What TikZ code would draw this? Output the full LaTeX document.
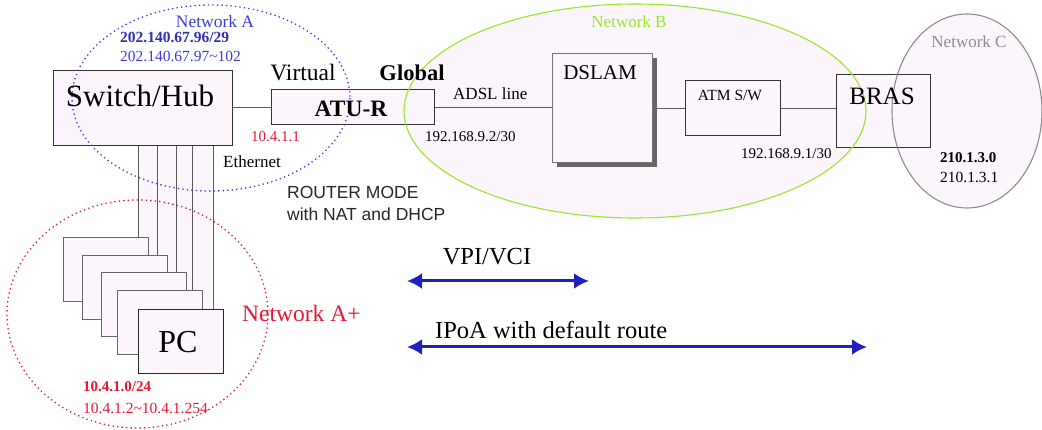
\documentclass[tikz,border=0pt]{standalone}
\usepackage{fontspec}
\setmainfont{Liberation Serif}
\newfontfamily\arialFont{Liberation Sans}
\usetikzlibrary{positioning,arrows.meta,shadows}
\tikzstyle{diagram} = [x = 1pt, y = -1pt, every node/.style={inner sep=0pt}]
\definecolor{boxFill}{RGB}{253,245,252}
\definecolor{netAColor}{RGB}{60,60,225}
\definecolor{netAPlusColor}{RGB}{232,24,48}
\definecolor{netBColor}{RGB}{150,232,40}
\definecolor{netCColor}{RGB}{140,140,140}
\definecolor{wireColor}{RGB}{90,90,90}
\definecolor{arrowColor}{RGB}{32,32,192}
\tikzstyle{deviceStyle} = [draw=black!80, fill=boxFill, line width=1.4pt, anchor=north west]
\tikzstyle{pcStyle} = [deviceStyle, draw=black!60, minimum width=85pt, minimum height=64pt]
\tikzstyle{wireStyle} = [draw=wireColor, line width=1.3pt]
\tikzstyle{netFill} = [fill=boxFill]
\tikzstyle{netADots} = [draw=netAColor, line width=1.3pt, dash pattern=on 1.3pt off 3.2pt]
\tikzstyle{netAPlusDots} = [draw=netAPlusColor, line width=1.3pt, dash pattern=on 1.3pt off 3.2pt]
\tikzstyle{netBLine} = [draw=netBColor, line width=1.1pt]
\tikzstyle{netCLine} = [draw=netCColor, line width=1.1pt]
\tikzstyle{flowArrow} = [draw=arrowColor, line width=3pt, >={Latex[length=15pt,width=16pt]}, <->]
\newcommand{\textSize}[1]{\fontsize{#1}{#1}\selectfont}

\begin{document}
\begin{tikzpicture}[diagram]
  \useasboundingbox (0,0) rectangle (1042,430);
  \path[netFill] (635,111) ellipse [x radius=231, y radius=107];
  \path[netFill] (967,111) ellipse [x radius=75, y radius=97];
  \path[netFill] (137,145) rectangle (212,309);

  \node[deviceStyle, minimum width=179pt, minimum height=75pt] (hub) at (53,70) {};
  \node[deviceStyle, minimum width=163pt, minimum height=35pt] (atur) at (271,89) {};
  \node[deviceStyle, draw=black!55, minimum width=100pt, minimum height=109pt,
        drop shadow={shadow xshift=4pt, shadow yshift=-4pt, fill=black!60, opacity=1}] (dslam) at (552,53) {};
  \node[deviceStyle, minimum width=95pt, minimum height=55pt] (atmsw) at (685,80) {};
  \node[deviceStyle, minimum width=94pt, minimum height=73pt] (bras) at (836,74) {};
  \foreach \n/\x/\y in {1/63/237, 2/82/255, 3/101/272, 4/117/290} {
    \node[pcStyle] (pc\n) at (\x,\y) {};
  }
  \node[pcStyle, draw=black!85] (pc5) at (138,309) {};

  \draw[wireStyle] (atur.west -| hub.east) -- (atur.west);
  \draw[wireStyle] (atur.east) -- (atur.east -| dslam.west);
  \draw[wireStyle] (atmsw.west -| dslam.east) -- (atmsw.west);
  \draw[wireStyle] (atmsw.east) -- (atmsw.east -| bras.west);
  \foreach \n in {1,...,5} {
    \draw[wireStyle] ([xshift=-11pt]pc\n.north east) -- ([xshift=-11pt]pc\n.north east |- hub.south);
  }

  \draw[netBLine] (635,111) ellipse [x radius=231, y radius=107];
  \draw[netCLine] (967,111) ellipse [x radius=75, y radius=97];
  \draw[netADots] (211,98) ellipse [x radius=139, y radius=93];
  \draw[netAPlusDots] (137.5,314) ellipse [x radius=130.5, y radius=114];

  \node[font=\textSize{31}] (hubText) at (140,96) {Switch/Hub};
  \node[font=\bfseries\textSize{23.5}] (aturText) at (351,109) {ATU-R};
  \node[font=\textSize{21}] (dslamText) at (600,73) {DSLAM};
  \node[font=\textSize{15.5}] (atmswText) at (730,95) {ATM S/W};
  \node[font=\textSize{25}] (brasText) at (882,96) {BRAS};
  \node[font=\textSize{32}] (pcText) at (178,342) {PC};

  \node[text=netAColor, font=\textSize{17.5}] (netALabel) at (215,22) {Network A};
  \node[anchor=west, text=netAColor!80!black, font=\bfseries\textSize{15.5}] (netANet) at (120,37) {202.140.67.96/29};
  \node[anchor=west, text=netAColor, font=\textSize{15.5}] (netARange) at (120,56) {202.140.67.97\textasciitilde102};
  \node[font=\textSize{23.5}] (virtualText) at (303,73) {Virtual};
  \node[font=\bfseries\textSize{22.5}] (globalText) at (412,73) {Global};
  \node[anchor=west, text=netAPlusColor, font=\textSize{15}] (aturIp) at (251,137) {10.4.1.1};
  \node[anchor=west, font=\textSize{17}] (ethernetText) at (223,162) {Ethernet};
  \node[anchor=west, text=black!85, font=\arialFont\textSize{17.5}] (routerMode) at (287,192) {ROUTER MODE};
  \node[anchor=west, text=black!85, font=\arialFont\textSize{17.5}] (routerNat) at (287,214) {with NAT and DHCP};
  \node[anchor=west, font=\textSize{17}] (adslText) at (453,94) {ADSL line};
  \node[anchor=west, font=\textSize{15}] (aturWanIp) at (425,137) {192.168.9.2/30};
  \node[text=netBColor, font=\textSize{17}] (netBLabel) at (629,22) {Network B};
  \node[anchor=west, font=\textSize{15}] (brasWanIp) at (741,154) {192.168.9.1/30};
  \node[text=netCColor, font=\textSize{17}] (netCLabel) at (969,42) {Network C};
  \node[anchor=west, font=\bfseries\textSize{15}] (netCNet) at (940,158) {210.1.3.0};
  \node[anchor=west, font=\textSize{15.5}] (netCHost) at (940,177) {210.1.3.1};
  \node[anchor=west, text=netAPlusColor, font=\textSize{23.5}] (netAPlusLabel) at (242,313) {Network A+};
  \node[anchor=west, text=netAPlusColor, font=\bfseries\textSize{15}] (netAPlusNet) at (83,387) {10.4.1.0/24};
  \node[anchor=west, text=netAPlusColor, font=\textSize{15.5}] (netAPlusRange) at (83,408) {10.4.1.2\textasciitilde10.4.1.254};

  \coordinate (vpiStart) at (407,281);
  \coordinate (vpiEnd) at (589,281);
  \coordinate (ipoaStart) at (407,347);
  \coordinate (ipoaEnd) at (867,347);
  \draw[flowArrow] (vpiStart) -- (vpiEnd);
  \draw[flowArrow] (ipoaStart) -- (ipoaEnd);
  \node[font=\textSize{24.5}] (vpiText) at (487,257) {VPI/VCI};
  \node[anchor=west, font=\textSize{24.5}] (ipoaText) at (435,330) {IPoA with default route};
\end{tikzpicture}
\end{document}
